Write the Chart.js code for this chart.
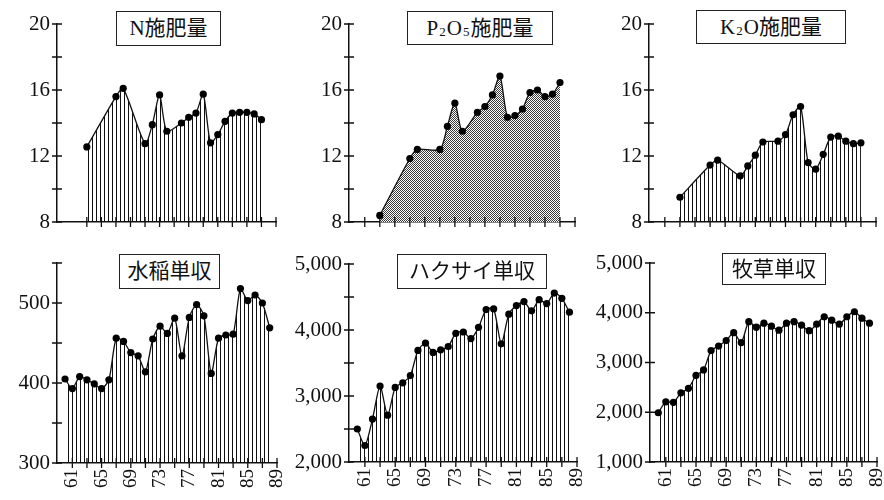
<!DOCTYPE html>
<html><head><meta charset="utf-8">
<script src="https://cdn.jsdelivr.net/npm/chart.js@4.4.1/dist/chart.umd.min.js"></script>
<style>
html,body{margin:0;padding:0;background:#fff;overflow:hidden;width:884px;height:500px}
#wrap{position:relative;width:884px;height:500px;overflow:hidden;background:#fff}
#wrap canvas{position:absolute;top:0}
.ttl{position:absolute;box-sizing:border-box;border:1.5px solid #222;background:#fff;font-family:"Liberation Serif","Noto Sans CJK JP",serif;font-size:21px;color:#111;display:flex;align-items:center;justify-content:center;white-space:nowrap;z-index:10;line-height:1}
.ttl .s{font-size:13px;position:relative;top:3px;margin:0 1px}
</style></head><body><div id="wrap"></div>
<script>
// ---- data ----
const fertYears = [63,67,68,71,72,73,74,76,77,78,79,80,81,82,83,84,85,86,87];
const nValues    = [12.55,15.6,16.1,12.75,13.9,15.7,13.5,14.0,14.35,14.6,15.75,12.8,13.3,14.1,14.6,14.65,14.65,14.55,14.2];
const p2o5Values = [8.4,11.85,12.4,12.4,13.8,15.2,13.5,14.65,15.0,15.7,16.85,14.35,14.45,14.85,15.85,16.0,15.6,15.75,16.45];
const k2oValues  = [9.5,11.45,11.75,10.8,11.4,12.05,12.85,12.9,13.3,14.5,15.0,11.6,11.2,12.1,13.15,13.2,12.9,12.75,12.8];

const yieldYears = [60,61,62,63,64,65,66,67,68,69,70,71,72,73,74,75,76,77,78,79,80,81,82,83,84,85,86,87,88];
const riceValues    = [405,393,408,404,399,393,404,456,452,438,434,414,455,471,462,481,434,482,498,484,412,456,460,461,518,503,510,500,469];
const cabbageValues = [2500,2250,2650,3150,2710,3130,3200,3310,3690,3800,3660,3700,3750,3950,3970,3870,4040,4310,4320,3790,4240,4370,4430,4290,4460,4400,4560,4480,4270];
const grassValues   = [1990,2210,2200,2390,2480,2740,2850,3240,3330,3440,3600,3400,3820,3710,3790,3730,3650,3790,3820,3750,3640,3770,3920,3850,3770,3920,4020,3890,3790];

const xTickYears   = [61,63,65,67,69,71,73,75,77,79,81,83,85,87,89];
const xTickYearsN  = [63,65,67,69,71,73,75,77,79,81,83,85,87,89];
const xLabelYears  = [61,65,69,73,77,81,85,89];
const fertTicks    = [8,10,12,14,16,18,20];
const fertLabels   = [8,12,16,20];
const riceTicks    = [300,350,400,450,500,550];
const riceLabels   = [300,400,500];
const cabbageTicks = [2000,2500,3000,3500,4000,4500,5000];
const cabbageLabels= [2000,3000,4000,5000];
const grassTicks   = [1000,2000,3000,4000,5000];
const grassLabels  = [1000,2000,3000,4000,5000];

const titles = ['N施肥量','P<span class="s">2</span>O<span class="s">5</span>施肥量','K<span class="s">2</span>O施肥量','水稲単収','ハクサイ単収','牧草単収'];

// ---- layout ----
const OFFX = 20, CW = 940, CH = 540, YW = 60, XH = 30;
const X_MIN = 58.9, X_MAX = 89;

function makePattern(kind){
  const c = document.createElement('canvas');
  if (kind === 'stripe'){
    c.width = 4; c.height = 4;
    const g = c.getContext('2d');
    g.fillStyle = '#111'; g.fillRect(0,0,1,4);
  } else {
    c.width = 2; c.height = 2;
    const g = c.getContext('2d');
    g.fillStyle = '#fff'; g.fillRect(0,0,2,2);
    g.fillStyle = '#3a3a3a'; g.fillRect(0,0,1,1); g.fillRect(1,1,1,1);
  }
  return c.getContext('2d').createPattern(c,'repeat');
}

const panels = [
  {years:fertYears, values:nValues, xTicks:xTickYearsN, yMin:8, yMax:20, yTicks:fertTicks, yLabels:fertLabels, fill:'stripe', xLabels:false, area:[57,24,276,222], box:[116,11,105,35]},
  {years:fertYears, values:p2o5Values, xTicks:xTickYears, yMin:8, yMax:20, yTicks:fertTicks, yLabels:fertLabels, fill:'dots', xLabels:false, area:[349,24,575,222], box:[407,11,146,34]},
  {years:fertYears, values:k2oValues, xTicks:xTickYears, yMin:8, yMax:20, yTicks:fertTicks, yLabels:fertLabels, fill:'stripe', xLabels:false, area:[649,24,876,222], box:[696,10,150,34]},
  {years:yieldYears, values:riceValues, xTicks:xTickYears, yMin:300, yMax:550, yTicks:riceTicks, yLabels:riceLabels, fill:'stripe', xLabels:true, area:[57,263,277,463], box:[119,254,101,35]},
  {years:yieldYears, values:cabbageValues, xTicks:xTickYears, yMin:2000, yMax:5000, yTicks:cabbageTicks, yLabels:cabbageLabels, fill:'stripe', xLabels:true, area:[349,264,577,462], box:[397,254,150,35]},
  {years:yieldYears, values:grassValues, xTicks:xTickYears, yMin:1000, yMax:5000, yTicks:grassTicks, yLabels:grassLabels, fill:'stripe', xLabels:true, area:[650,263,877,462], box:[722,253,104,32]}
];

const crossTicks = {
  id:'crossTicks',
  afterDraw(chart){
    const ctx = chart.ctx, xs = chart.scales.x, ys = chart.scales.y, a = chart.chartArea;
    ctx.save();
    ctx.strokeStyle = '#111'; ctx.lineWidth = 1.3;
    ctx.beginPath();
    ys.ticks.forEach(t => { const y = ys.getPixelForValue(t.value); ctx.moveTo(a.left-5,y); ctx.lineTo(a.left+5,y); });
    xs.ticks.forEach(t => { const x = xs.getPixelForValue(t.value); ctx.moveTo(x,a.bottom-5); ctx.lineTo(x,a.bottom+5); });
    ctx.stroke();
    ctx.restore();
  }
};

const fmt = v => v >= 1000 ? v.toLocaleString('en-US') : String(v);
const wrap = document.getElementById('wrap');

panels.forEach((p, i) => {
  const cv = document.createElement('canvas');
  cv.width = CW; cv.height = CH;
  cv.style.width = CW+'px'; cv.style.height = CH+'px';
  cv.style.left = (-OFFX)+'px';
  wrap.appendChild(cv);
  const [l,t,r,b] = p.area;
  new Chart(cv, {
    type:'line',
    data:{datasets:[{
      data:p.years.map((y,k)=>({x:y, y:p.values[k]})),
      borderColor:'#111', borderWidth:1.3, tension:0.25,
      fill:'start', backgroundColor:makePattern(p.fill),
      pointRadius:3.6, pointHoverRadius:3.6, pointBackgroundColor:'#000', pointBorderWidth:0
    }]},
    options:{
      responsive:false, animation:false, devicePixelRatio:1, events:[],
      layout:{padding:{left:l+OFFX-YW, top:t, right:CW-(r+OFFX), bottom:CH-b-XH}},
      plugins:{legend:{display:false}, tooltip:{enabled:false}},
      scales:{
        x:{type:'linear', min:X_MIN, max:X_MAX, bounds:'data',
           grid:{display:false, drawTicks:false}, border:{display:true, color:'#111', width:1.5},
           afterBuildTicks:s=>{ s.ticks = p.xTicks.map(v=>({value:v})); },
           afterFit:s=>{ s.height = XH; },
           ticks:{autoSkip:false, maxRotation:90, minRotation:90, padding:6, color:'#111',
                  font:{family:'Liberation Serif', size:19},
                  callback:v => (p.xLabels && xLabelYears.includes(v)) ? String(v) : ''}},
        y:{type:'linear', min:p.yMin, max:p.yMax, bounds:'data',
           grid:{display:false, drawTicks:false}, border:{display:true, color:'#111', width:1.5},
           afterBuildTicks:s=>{ s.ticks = p.yTicks.map(v=>({value:v})); },
           afterFit:s=>{ s.width = YW; },
           ticks:{autoSkip:false, padding:7, color:'#111',
                  font:{family:'Liberation Serif', size:21},
                  callback:v => p.yLabels.includes(v) ? fmt(v) : ''}}
      }
    },
    plugins:[crossTicks]
  });
  const d = document.createElement('div');
  d.className = 'ttl';
  d.style.left = p.box[0]+'px'; d.style.top = p.box[1]+'px';
  d.style.width = p.box[2]+'px'; d.style.height = p.box[3]+'px';
  d.innerHTML = titles[i];
  wrap.appendChild(d);
});
</script>
</body></html>
